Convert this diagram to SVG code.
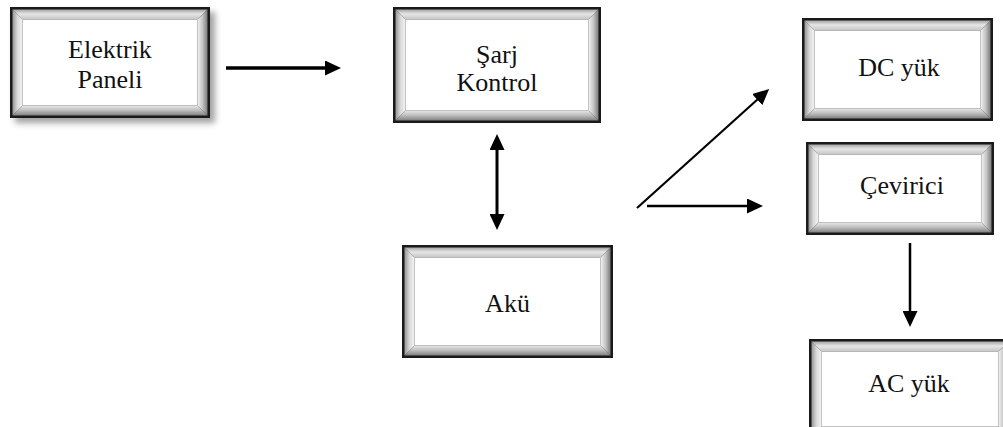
<svg xmlns="http://www.w3.org/2000/svg" width="1003" height="427" viewBox="0 0 1003 427">
  <defs>
    <style>
      text { font-family: 'Liberation Serif', 'Times New Roman', serif; font-size: 26px; fill: #111; text-anchor: middle; }
      .edge { stroke: #000; fill: none; }
      .border { fill: #1a1a1a; }
      .face { fill: #ffffff; }
      .bt { fill: url(#gTop); }
      .bl { fill: url(#gLeft); }
      .br { fill: url(#gRight); }
      .bb { fill: url(#gBottom); }
    </style>
    <!-- bevel shading: lit from top-left -->
    <linearGradient id="gTop" x1="0" y1="0" x2="0" y2="1">
      <stop offset="0" stop-color="#a4a4a4"/>
      <stop offset="0.45" stop-color="#e6e6e6"/>
      <stop offset="1" stop-color="#c4c4c4"/>
    </linearGradient>
    <linearGradient id="gLeft" x1="0" y1="0" x2="1" y2="0">
      <stop offset="0" stop-color="#959595"/>
      <stop offset="0.5" stop-color="#d9d9d9"/>
      <stop offset="1" stop-color="#f4f4f4"/>
    </linearGradient>
    <linearGradient id="gRight" x1="0" y1="0" x2="1" y2="0">
      <stop offset="0" stop-color="#f4f4f4"/>
      <stop offset="0.5" stop-color="#c4c4c4"/>
      <stop offset="1" stop-color="#7c7c7c"/>
    </linearGradient>
    <linearGradient id="gBottom" x1="0" y1="0" x2="0" y2="1">
      <stop offset="0" stop-color="#e8e8e8"/>
      <stop offset="0.5" stop-color="#bcbcbc"/>
      <stop offset="1" stop-color="#808080"/>
    </linearGradient>
    <filter id="shadow" x="-20%" y="-20%" width="140%" height="140%">
      <feGaussianBlur stdDeviation="3"/>
    </filter>
    <marker id="head" markerUnits="userSpaceOnUse" markerWidth="16" markerHeight="15" refX="1" refY="7.5" orient="auto-start-reverse" viewBox="0 0 16 15">
      <path d="M0,0 L16,7.5 L0,15 z" fill="#000"/>
    </marker>
  </defs>

  <rect width="1003" height="427" fill="#fff"/>

  <!-- Elektrik Paneli -->
  <g id="node-panel">
    <rect x="15" y="12" width="200" height="111" fill="#555" opacity="0.55" filter="url(#shadow)"/>
    <rect class="border" x="10" y="7" width="200" height="111"/>
    <polygon class="bt" points="12.5,9.5 207.5,9.5 197.5,19.5 22.5,19.5"/>
    <polygon class="bl" points="12.5,9.5 22.5,19.5 22.5,105.5 12.5,115.5"/>
    <polygon class="br" points="197.5,19.5 207.5,9.5 207.5,115.5 197.5,105.5"/>
    <polygon class="bb" points="22.5,105.5 197.5,105.5 207.5,115.5 12.5,115.5"/>
    <rect class="face" x="22.5" y="19.5" width="175" height="86"/>
    <text x="110" y="58">Elektrik</text>
    <text x="110" y="88">Paneli</text>
  </g>

  <!-- Şarj Kontrol -->
  <g id="node-charge">
    <rect class="border" x="393" y="7" width="208" height="116"/>
    <polygon class="bt" points="395.5,9.5 598.5,9.5 588.5,19.5 405.5,19.5"/>
    <polygon class="bl" points="395.5,9.5 405.5,19.5 405.5,110.5 395.5,120.5"/>
    <polygon class="br" points="588.5,19.5 598.5,9.5 598.5,120.5 588.5,110.5"/>
    <polygon class="bb" points="405.5,110.5 588.5,110.5 598.5,120.5 395.5,120.5"/>
    <rect class="face" x="405.5" y="19.5" width="183" height="91"/>
    <text x="497" y="63">Şarj</text>
    <text x="497" y="91">Kontrol</text>
  </g>

  <!-- Akü -->
  <g id="node-battery">
    <rect class="border" x="402" y="245" width="211" height="113"/>
    <polygon class="bt" points="404.5,247.5 610.5,247.5 600.5,257.5 414.5,257.5"/>
    <polygon class="bl" points="404.5,247.5 414.5,257.5 414.5,345.5 404.5,355.5"/>
    <polygon class="br" points="600.5,257.5 610.5,247.5 610.5,355.5 600.5,345.5"/>
    <polygon class="bb" points="414.5,345.5 600.5,345.5 610.5,355.5 404.5,355.5"/>
    <rect class="face" x="414.5" y="257.5" width="186" height="88"/>
    <text x="507.5" y="312">Akü</text>
  </g>

  <!-- DC yük -->
  <g id="node-dc">
    <rect class="border" x="802" y="18" width="191" height="103"/>
    <polygon class="bt" points="804.5,20.5 990.5,20.5 980.5,30.5 814.5,30.5"/>
    <polygon class="bl" points="804.5,20.5 814.5,30.5 814.5,108.5 804.5,118.5"/>
    <polygon class="br" points="980.5,30.5 990.5,20.5 990.5,118.5 980.5,108.5"/>
    <polygon class="bb" points="814.5,108.5 980.5,108.5 990.5,118.5 804.5,118.5"/>
    <rect class="face" x="814.5" y="30.5" width="166" height="78"/>
    <text x="899" y="76">DC yük</text>
  </g>

  <!-- Çevirici -->
  <g id="node-inverter">
    <rect class="border" x="806" y="142" width="188" height="93"/>
    <polygon class="bt" points="808.5,144.5 991.5,144.5 981.5,154.5 818.5,154.5"/>
    <polygon class="bl" points="808.5,144.5 818.5,154.5 818.5,222.5 808.5,232.5"/>
    <polygon class="br" points="981.5,154.5 991.5,144.5 991.5,232.5 981.5,222.5"/>
    <polygon class="bb" points="818.5,222.5 981.5,222.5 991.5,232.5 808.5,232.5"/>
    <rect class="face" x="818.5" y="154.5" width="163" height="68"/>
    <text x="902" y="194">Çevirici</text>
  </g>

  <!-- AC yük (runs past the right and bottom edges) -->
  <g id="node-ac">
    <rect class="border" x="809" y="339" width="202" height="100"/>
    <polygon class="bt" points="811.5,341.5 1008.5,341.5 998.5,351.5 821.5,351.5"/>
    <polygon class="bl" points="811.5,341.5 821.5,351.5 821.5,426.5 811.5,436.5"/>
    <polygon class="br" points="998.5,351.5 1008.5,341.5 1008.5,436.5 998.5,426.5"/>
    <polygon class="bb" points="821.5,426.5 998.5,426.5 1008.5,436.5 811.5,436.5"/>
    <rect class="face" x="821.5" y="351.5" width="177" height="75"/>
    <text x="909" y="392">AC yük</text>
  </g>

  <!-- connectors -->
  <g id="connectors">
    <line class="edge" x1="226" y1="68" x2="326" y2="68" stroke-width="3.5" marker-end="url(#head)"/>
    <line class="edge" x1="497" y1="149" x2="497" y2="215" stroke-width="3" marker-start="url(#head)" marker-end="url(#head)"/>
    <line class="edge" x1="637" y1="208" x2="758" y2="99" stroke-width="2.2" marker-end="url(#head)"/>
    <line class="edge" x1="647" y1="206" x2="748" y2="206" stroke-width="2.5" marker-end="url(#head)"/>
    <line class="edge" x1="910" y1="243" x2="910" y2="312" stroke-width="2.5" marker-end="url(#head)"/>
  </g>
</svg>
